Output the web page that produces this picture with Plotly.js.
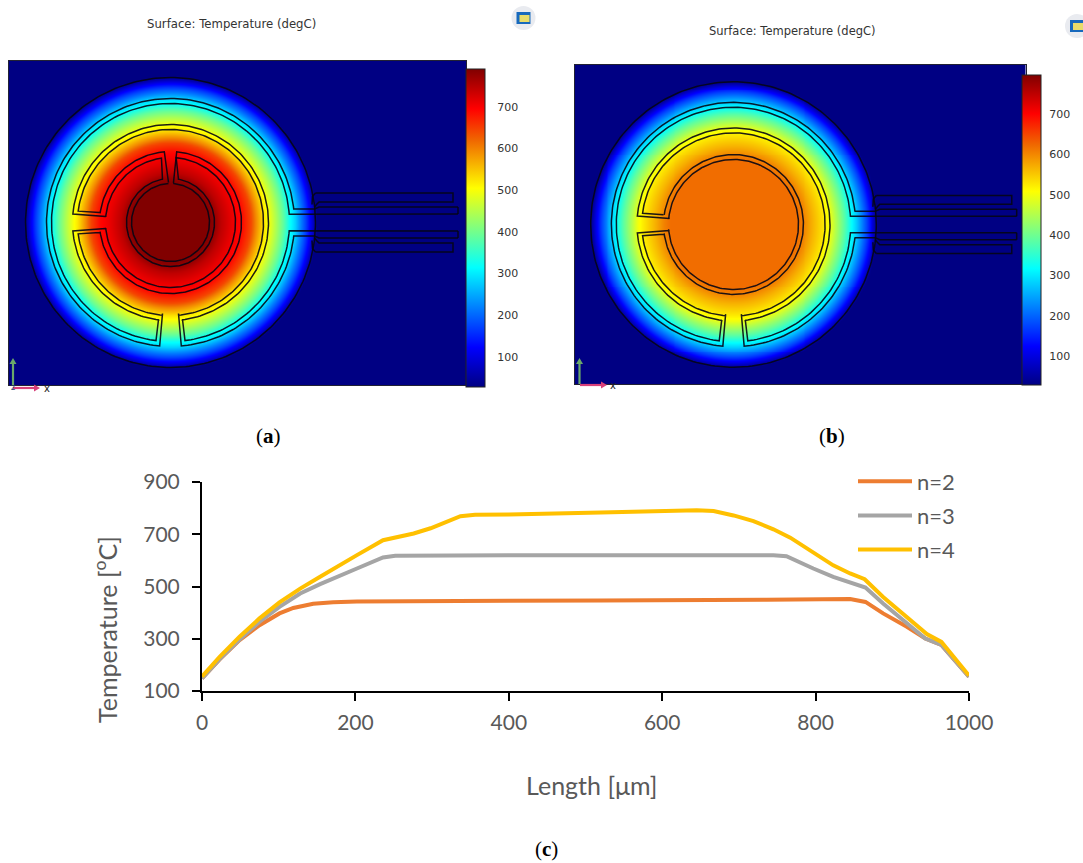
<!DOCTYPE html>
<html><head><meta charset="utf-8">
<script src="https://cdn.plot.ly/plotly-3.0.1.min.js"></script>
<style>html,body{margin:0;padding:0;background:#fff}#c{width:1083px;height:863px}</style>
</head><body><div id="c"></div>
<script>
// ---- line chart (c) ----
const n2Len = [0,23,49,75,101,119,145,171,202,236,400,520,600,736,845,865,888,919,943,964,1000];
const n2Temp = [148,221,295,352,397,418,434,440,443,444,445,446,446,449,452,441,397,346,301,276,155];
const n3Len = [0,23,49,75,101,128,154,180,202,236,252,400,600,745,762,780,797,823,845,865,888,919,943,964,1000];
const n3Temp = [148,222,297,365,422,473,509,543,569,611,618,620,620,620,616,590,569,537,514,496,435,359,301,276,155];
const n4Len = [0,23,49,75,101,128,154,180,202,236,258,276,298,320,337,356,400,520,600,645,667,693,719,745,767,797,823,845,864,888,919,945,964,1000];
const n4Temp = [155,231,308,378,439,492,537,584,620,677,690,703,723,747,769,775,776,783,789,792,789,772,750,719,687,629,581,550,528,460,384,318,288,159];
// ---- radial temperature readings of the maps ----
const radiusA = [0,39,44,50,60,66,71,80,85,93,98,105,112,119,124,130,135,140,145,146];
const tempA   = [790,790,775,745,715,700,690,645,595,525,495,445,390,320,285,220,170,110,40,28];
const radiusB = [0,65,71,80,85,93,98,105,112,119,124,130,135,140,145,146];
const tempB   = [620,620,605,568,550,520,495,440,385,320,280,220,170,110,40,28];
const cbTicks = [100,200,300,400,500,600,700];
const tMin = 28, tMaxA = 791, tMaxB = 797;
// ---- device outline, in map units around the disc centre ----
const outerOps = [
 [['A',145,0,360]],
 [['P',145,29.5],['P',282.5,29.5],['P',282.5,20.5],['P',148.5,20.5],['P',146,18],['P',144,15.5]],
 [['P',145,29.5],['P',142,26],['P',141.5,18]],
 [['P',145,-29.5],['P',282.5,-29.5],['P',282.5,-20.5],['P',148.5,-20.5],['P',146,-18],['P',144,-15.5]],
 [['P',145,-29.5],['P',142,-26],['P',141.5,-18]],
 [['P',287.5,15.5],['P',287.5,8.5]],
 [['P',287.5,-15.5],['P',287.5,-8.5]]
];
const trackHead1 = [['P',287.5,8.5],['P',119.7,8.5],['A',119,4,263],['P',-12,-97],['A',98,263,185],['P',-65,-6]];
const trackHead2 = [['P',287.5,-8.5],['P',119.7,-8.5],['A',119,-4,-83],['P',12,-97],['A',98,-83,175],['P',-65,6]];
const trackHead3 = [['P',287.5,15.5],['P',148.5,15.5],['P',144,13.5],['P',123.3,13.5],['A',124,6,265],['P',-8,-91],['A',93,265,187],['P',-71,-10]];
const trackHead4 = [['P',287.5,-15.5],['P',148.5,-15.5],['P',144,-13.5],['P',123.3,-13.5],['A',124,-6,-85],['P',8,-91],['A',93,-85,173],['P',-71,10]];
const innerOpsA = [
 trackHead1.concat([['A',65,185,445],['P',8,43],['A',44,80,-260]]),
 trackHead2.concat([['A',65,175,98],['P',-8,43]]),
 trackHead3.concat([['A',71,188,445],['P',3,40],['A',39,85,-267]]),
 trackHead4.concat([['A',71,172,95],['P',-2,40]])
];
const innerOpsB = [
 trackHead1.concat([['A',66,185,535]]),
 trackHead2,
 trackHead3.concat([['A',71,188,532]]),
 trackHead4
];
const jet = [[0,'rgb(0,0,131)'],[0.125,'rgb(0,0,255)'],[0.375,'rgb(0,255,255)'],[0.625,'rgb(255,255,0)'],[0.776,'rgb(240,103,0)'],[0.875,'rgb(255,0,0)'],[1,'rgb(128,0,0)']];

function outline(groups){
  const xs=[],ys=[];
  groups.forEach(g=>{
    g.forEach(op=>{
      if(op[0]==='P'){xs.push(op[1]);ys.push(op[2]);}
      else{
        const n=Math.max(6,Math.ceil(Math.abs(op[3]-op[2])/1.5));
        for(let i=0;i<=n;i++){const a=(op[2]+(op[3]-op[2])*i/n)*Math.PI/180;xs.push(op[1]*Math.cos(a));ys.push(op[1]*Math.sin(a));}
      }
    });
    xs.push(null);ys.push(null);
  });
  return {xs,ys};
}
function lookup(rs,ts,r){
  if(r>=rs[rs.length-1])return ts[ts.length-1];
  for(let i=1;i<rs.length;i++){if(r<=rs[i]){const f=(r-rs[i-1])/(rs[i]-rs[i-1]);return ts[i-1]+f*(ts[i]-ts[i-1]);}}
}
function field(rs,ts,xr,yr){
  const step=2,x=[],y=[],z=[];
  for(let v=xr[0];v<=xr[1]+step;v+=step)x.push(v);
  for(let v=yr[0];v<=yr[1]+step;v+=step)y.push(v);
  y.forEach(b=>z.push(x.map(a=>lookup(rs,ts,Math.hypot(a,b)))));
  return {x,y,z};
}
const W=1083,H=863;
const px=v=>v/W, py=v=>1-v/H;

const xrA=[-161.5,295.5], yrA=[-162.5,161.5];
const sB=0.985;
const xrB=[(574.5-733.5)/sB,(1026-733.5)/sB], yrB=[(224.5-384)/sB,(224.5-65)/sB];

function heat(rs,ts,xr,yr,xa,ya,cbx,cbBottom,cbLen,zmax,tickGap){
  const f=field(rs,ts,xr,yr);
  return {type:'heatmap',x:f.x,y:f.y,z:f.z,xaxis:xa,yaxis:ya,zmin:tMin,zmax:zmax,colorscale:jet,zsmooth:'best',hoverinfo:'skip',
    colorbar:{x:px(cbx),xanchor:'left',xpad:0,ypad:0,y:py(cbBottom),yanchor:'bottom',lenmode:'pixels',len:cbLen,thicknessmode:'pixels',thickness:cbx>1000?18.5:19,
      outlinecolor:'#222',outlinewidth:1,borderwidth:0,tickmode:'array',tickvals:cbTicks,ticktext:cbTicks.map(String),ticks:'outside',ticklen:tickGap,tickcolor:'rgba(0,0,0,0)',
      tickfont:{family:'DejaVu Sans',size:11,color:'#333'}}};
}
function lineTrace(o,xa,ya){return {type:'scatter',mode:'lines',x:o.xs,y:o.ys,xaxis:xa,yaxis:ya,line:{color:'rgba(5,5,20,0.9)',width:1.5},showlegend:false,hoverinfo:'skip',connectgaps:false};}
const oA=outline(outerOps.concat(innerOpsA)), oB=outline(outerOps.concat(innerOpsB));
function series(x,y,name,color){return {type:'scatter',mode:'lines',x,y,name,xaxis:'x3',yaxis:'y3',legendgroup:name,line:{color,width:4},hoverinfo:'skip'};}

const data=[
 heat(radiusA,tempA,xrA,yrA,'x','y',466,387,318,tMaxA,10),
 lineTrace(oA,'x','y'),
 heat(radiusB,tempB,xrB,yrB,'x2','y2',1022,385,310,tMaxB,6),
 lineTrace(oB,'x2','y2'),
 series(n2Len,n2Temp,'n=2','#ED7D31'),
 series(n3Len,n3Temp,'n=3','#A5A5A5'),
 series(n4Len,n4Temp,'n=4','#FFC000')
];
const blank=(dom,range,anchor)=>({domain:dom,range,anchor,showticklabels:false,ticks:'',showgrid:false,zeroline:false,showline:true,mirror:true,linecolor:'#223',linewidth:1});
const chartFont={family:'Lato',size:21,color:'#595959'};
const legendFont={family:'Lato',size:22,color:'#595959'};
const shapes=[];
const P=(type,o)=>Object.assign({type,xref:'paper',yref:'paper'},o);
function stubs(barL,barR,y100,perUnit){
  cbTicks.forEach(t=>{
    const y=y100-(t-100)*perUnit;
    [[barL,barL+5],[barR-5,barR]].forEach(s=>shapes.push(P('line',{x0:px(s[0]),x1:px(s[1]),y0:py(y),y1:py(y),line:{color:'#222',width:1}})));
  });
}
stubs(466,485,357,0.4167);
stubs(1022,1040.5,356,0.4033);
function icon(cx,cy){
  shapes.push(P('circle',{x0:px(cx-12),x1:px(cx+12),y0:py(cy-12),y1:py(cy+12),fillcolor:'#e9ebf0',line:{width:0}}));
  shapes.push(P('rect',{x0:px(cx-7),x1:px(cx+7),y0:py(cy-6),y1:py(cy+6),fillcolor:'#1769bd',line:{width:0}}));
  shapes.push(P('rect',{x0:px(cx-4),x1:px(cx+6),y0:py(cy-3),y1:py(cy+4),fillcolor:'#e8dc6a',line:{width:0}}));
}
icon(523.5,18); icon(1077,26);
function triad(x0,y0,x1,y1,color){
  const dx=Math.sign(x1-x0),dy=Math.sign(y1-y0),s=6;
  shapes.push(P('line',{x0:px(x0),y0:py(y0),x1:px(x1),y1:py(y1),line:{color,width:2.2}}));
  const a=[x1+dx*s,y1+dy*s],b=[x1-dy*3.5,y1-dx*3.5],c=[x1+dy*3.5,y1+dx*3.5];
  shapes.push(P('path',{path:`M${px(a[0])},${py(a[1])} L${px(b[0])},${py(b[1])} L${px(c[0])},${py(c[1])} Z`,fillcolor:color,line:{width:0}}));
}
triad(13,385,13,364,'#6aa86a'); triad(13,388,34,388,'#d8407a');
triad(579.5,384,579.5,364,'#6aa86a'); triad(580,385,601,385,'#d8407a');

function text(x,y,t,font,extra){return Object.assign({xref:'paper',yref:'paper',x:px(x),y:py(y),text:t,showarrow:false,font,xanchor:'center',yanchor:'middle'},extra||{});}
const titleFontA={family:'DejaVu Sans',size:11.7,color:'#333'};
const titleFontB={family:'DejaVu Sans',size:11.5,color:'#333'};
const smallFont={family:'DejaVu Sans',size:10,color:'#222'};
const labelFont={family:'Liberation Serif',size:21,color:'#000'};
const axisFont={family:'Lato',size:25,color:'#595959'};
const annotations=[
 text(231,24,'Surface: Temperature (degC)',titleFontA),
 text(792,31,'Surface: Temperature (degC)',titleFontB),
 text(268,436,'(<b>a</b>)',labelFont),
 text(832,436,'(<b>b</b>)',labelFont),
 text(546,849,'(<b>c</b>)',labelFont),
 text(47,388,'x',smallFont),
 text(13,387,'z',{family:'DejaVu Sans',size:8,color:'#246'}),
 text(613,385,'x',smallFont),
 text(105,630,'Temperature [<sup>o</sup>C]',axisFont,{textangle:-90}),
 text(591,785,'Length [μm]',axisFont)
];
const layout={
 width:W,height:H,margin:{l:0,r:0,t:0,b:0,pad:0},paper_bgcolor:'#fff',plot_bgcolor:'#fff',showlegend:true,
 xaxis:blank([px(9),px(466)],xrA,'y'),
 yaxis:blank([py(385),py(61)],yrA,'x'),
 xaxis2:blank([px(574.5),px(1026)],xrB,'y2'),
 yaxis2:blank([py(384),py(65)],yrB,'x2'),
 xaxis3:{domain:[px(202),px(969)],range:[0,1000],anchor:'y3',tickmode:'array',tickvals:[0,200,400,600,800,1000],ticks:'outside',ticklen:8,tickwidth:2,tickcolor:'#000',showgrid:false,zeroline:false,showline:true,linecolor:'#000',linewidth:2,tickfont:chartFont,ticklabelstandoff:4},
 yaxis3:{domain:[py(691),py(482)],range:[100,900],anchor:'x3',tickmode:'array',tickvals:[100,300,500,700,900],ticks:'outside',ticklen:8,tickwidth:2,tickcolor:'#000',showgrid:false,zeroline:false,showline:true,linecolor:'#000',linewidth:2,tickfont:chartFont,ticklabelstandoff:8},
 legend:{x:px(853),xanchor:'left',y:py(460.5),yanchor:'top',bgcolor:'rgba(0,0,0,0)',font:legendFont,itemwidth:54,tracegroupgap:2.5,traceorder:'grouped',itemclick:false,itemdoubleclick:false},
 shapes,annotations
};
Plotly.newPlot('c',data,layout,{displayModeBar:false,staticPlot:true});
</script></body></html>
